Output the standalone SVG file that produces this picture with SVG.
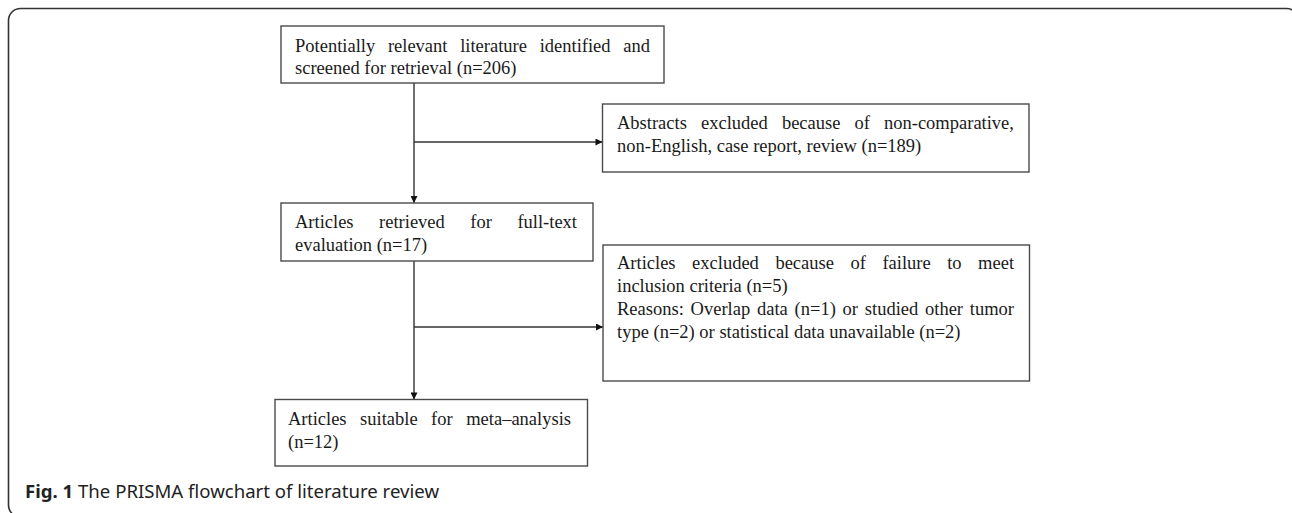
<svg xmlns="http://www.w3.org/2000/svg" width="1292" height="513" viewBox="0 0 1292 513">
<defs>
<style>
.frame{fill:none;stroke:#333;stroke-width:1.6}
.box{fill:#fff;stroke:#4a4a4a;stroke-width:1.4}
.t{font-family:"Liberation Serif","Times New Roman",serif;font-size:18.5px;fill:#1a1a1a}
.conn{fill:none;stroke:#333;stroke-width:1.4}
.cap{font-family:"Noto Sans","Open Sans",sans-serif;font-size:18.5px;fill:#222}
</style>
<marker id="arr" viewBox="0 0 10 10" refX="10" refY="5" markerWidth="8" markerHeight="7" markerUnits="userSpaceOnUse" orient="auto">
<path d="M0,0 L10,5 L0,10 z" fill="#111"/>
</marker>
</defs>
<rect width="1292" height="513" fill="#fff"/>
<rect class="frame" x="8.5" y="8.5" width="1290" height="508.5" rx="12" ry="12"/>

<g id="connectors">
<line class="conn" x1="414" y1="83" x2="414" y2="203" marker-end="url(#arr)"/>
<line class="conn" x1="414" y1="142" x2="602.5" y2="142" marker-end="url(#arr)"/>
<line class="conn" x1="414" y1="261" x2="414" y2="399.5" marker-end="url(#arr)"/>
<line class="conn" x1="414" y1="327" x2="603" y2="327" marker-end="url(#arr)"/>
</g>

<g id="node-identified">
<rect class="box" x="281" y="26" width="383" height="57"/>
<text class="t" y="51.5"><tspan x="295">Potentially</tspan><tspan x="387.9">relevant</tspan><tspan x="460.2">literature</tspan><tspan x="539.7">identified</tspan><tspan x="623.3">and</tspan></text>
<text class="t" x="295" y="74">screened for retrieval (n=206)</text>
</g>

<g id="node-abstracts-excluded">
<rect class="box" x="602.5" y="104" width="426.5" height="68"/>
<text class="t" y="129"><tspan x="617">Abstracts</tspan><tspan x="701">excluded</tspan><tspan x="781.9">because</tspan><tspan x="854.5">of</tspan><tspan x="884">non-comparative,</tspan></text>
<text class="t" x="617" y="152">non-English, case report, review (n=189)</text>
</g>

<g id="node-fulltext">
<rect class="box" x="281" y="203" width="312" height="58"/>
<text class="t" y="228"><tspan x="295">Articles</tspan><tspan x="379.1">retrieved</tspan><tspan x="470.3">for</tspan><tspan x="517.4">full-text</tspan></text>
<text class="t" x="295" y="251">evaluation (n=17)</text>
</g>

<g id="node-articles-excluded">
<rect class="box" x="603" y="245" width="426.5" height="136"/>
<text class="t" y="269"><tspan x="617">Articles</tspan><tspan x="692.1">excluded</tspan><tspan x="775.4">because</tspan><tspan x="850.4">of</tspan><tspan x="882.4">failure</tspan><tspan x="947.2">to</tspan><tspan x="978.1">meet</tspan></text>
<text class="t" x="617" y="292">inclusion criteria (n=5)</text>
<text class="t" y="315"><tspan x="617">Reasons:</tspan><tspan x="690.6">Overlap</tspan><tspan x="757">data</tspan><tspan x="794.6">(n=1)</tspan><tspan x="842.6">or</tspan><tspan x="864.8">studied</tspan><tspan x="925">other</tspan><tspan x="969.8">tumor</tspan></text>
<text class="t" x="617" y="338">type (n=2) or statistical data unavailable (n=2)</text>
</g>

<g id="node-meta">
<rect class="box" x="275" y="399.5" width="312.5" height="66.5"/>
<text class="t" y="425"><tspan x="288">Articles</tspan><tspan x="360.1">suitable</tspan><tspan x="431.1">for</tspan><tspan x="466.2">meta–analysis</tspan></text>
<text class="t" x="288" y="448">(n=12)</text>
</g>

<g id="caption">
<text class="cap" x="25" y="498" textLength="414" lengthAdjust="spacingAndGlyphs"><tspan font-weight="bold">Fig. 1</tspan> The PRISMA flowchart of literature review</text>
</g>
</svg>
